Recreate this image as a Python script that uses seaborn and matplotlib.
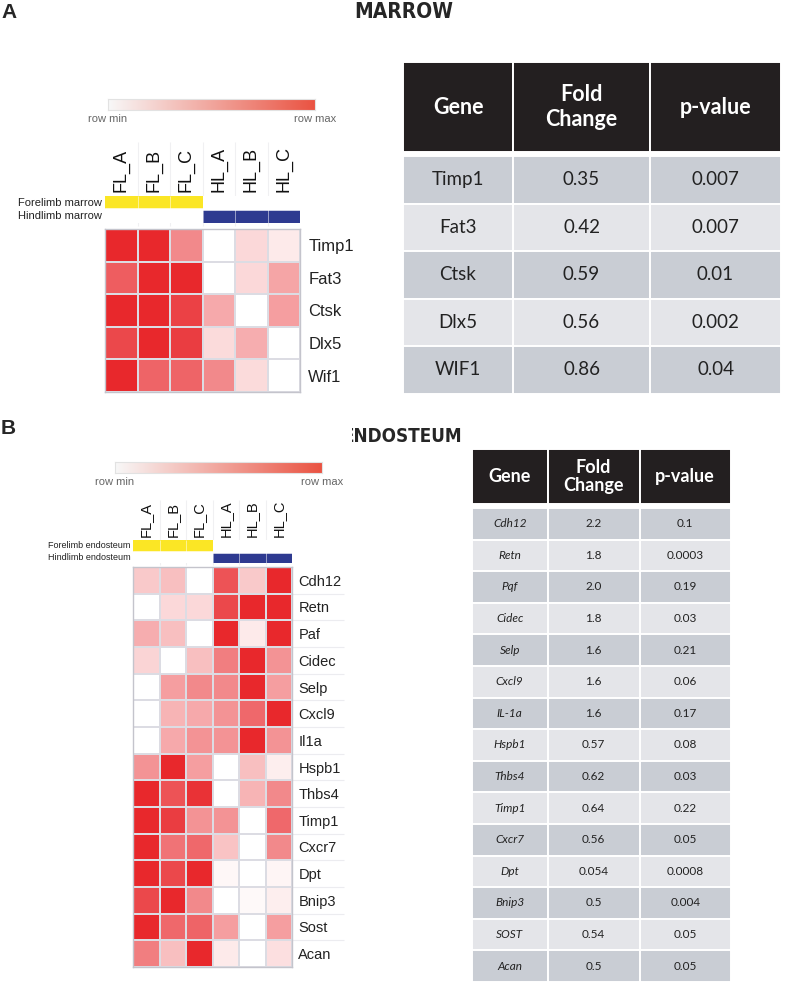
import numpy as np
import pandas as pd
import matplotlib
matplotlib.use("Agg")
import matplotlib.pyplot as plt
import seaborn as sns
from matplotlib import font_manager
from matplotlib.colors import LinearSegmentedColormap, ListedColormap
from matplotlib.patches import Rectangle

# ================= Data =================
samples = ["FL_A", "FL_B", "FL_C", "HL_A", "HL_B", "HL_C"]
groups = ["FL", "FL", "FL", "HL", "HL", "HL"]

# row-scaled expression (0 = row min, 1 = row max)
marrow_genes = ["Timp1", "Fat3", "Ctsk", "Dlx5", "Wif1"]
marrow_vals = [
    [1.00, 1.00, 0.55, 0.00, 0.18, 0.10],
    [0.75, 1.00, 1.00, 0.00, 0.18, 0.42],
    [1.00, 1.00, 0.88, 0.40, 0.00, 0.45],
    [0.85, 1.00, 0.90, 0.17, 0.38, 0.00],
    [1.00, 0.72, 0.72, 0.55, 0.17, 0.00],
]

endo_genes = ["Cdh12", "Retn", "Paf", "Cidec", "Selp", "Cxcl9", "Il1a", "Hspb1",
              "Thbs4", "Timp1", "Cxcr7", "Dpt", "Bnip3", "Sost", "Acan"]
endo_vals = [
    [0.25, 0.30, 0.00, 0.80, 0.25, 1.00],
    [0.00, 0.18, 0.18, 0.85, 1.00, 1.00],
    [0.38, 0.30, 0.00, 1.00, 0.10, 1.00],
    [0.20, 0.00, 0.30, 0.60, 1.00, 0.50],
    [0.00, 0.45, 0.55, 0.55, 1.00, 0.45],
    [0.00, 0.35, 0.40, 0.50, 0.70, 1.00],
    [0.00, 0.40, 0.50, 0.50, 1.00, 0.50],
    [0.50, 1.00, 0.45, 0.00, 0.30, 0.08],
    [1.00, 0.80, 0.95, 0.00, 0.35, 0.55],
    [1.00, 0.90, 0.50, 0.50, 0.00, 0.70],
    [1.00, 0.65, 0.70, 0.28, 0.00, 0.55],
    [1.00, 0.85, 1.00, 0.04, 0.00, 0.05],
    [0.85, 1.00, 0.55, 0.00, 0.03, 0.08],
    [1.00, 0.70, 0.72, 0.45, 0.00, 0.45],
    [0.60, 0.30, 1.00, 0.10, 0.00, 0.15],
]

table_headers = ["Gene", "Fold\nChange", "p-value"]

marrow_tab_gene = ["Timp1", "Fat3", "Ctsk", "Dlx5", "WIF1"]
marrow_tab_fc = ["0.35", "0.42", "0.59", "0.56", "0.86"]
marrow_tab_p = ["0.007", "0.007", "0.01", "0.002", "0.04"]

endo_tab_gene = ["Cdh12", "Retn", "Pqf", "Cidec", "Selp", "Cxcl9", "IL-1a", "Hspb1",
                 "Thbs4", "Timp1", "Cxcr7", "Dpt", "Bnip3", "SOST", "Acan"]
endo_tab_fc = ["2.2", "1.8", "2.0", "1.8", "1.6", "1.6", "1.6", "0.57",
               "0.62", "0.64", "0.56", "0.054", "0.5", "0.54", "0.5"]
endo_tab_p = ["0.1", "0.0003", "0.19", "0.03", "0.21", "0.06", "0.17", "0.08",
              "0.03", "0.22", "0.05", "0.0008", "0.004", "0.05", "0.05"]

# ================= Style =================
sns.set_style("white")
plt.rcParams['font.family'] = ['Liberation Sans', 'DejaVu Sans']

HEAT_CMAP = LinearSegmentedColormap.from_list("rw", ["#ffffff", "#e8282c"])
SCALE_CMAP = LinearSegmentedColormap.from_list("scale", ["#f8f8f8", "#ea5342"])
ANN_CMAP = ListedColormap(["#ffffff", "#fbe625", "#2e3a90"])
HEAD_COL = "#231f20"
ROW_DARK = "#c9cdd4"
ROW_LIGHT = "#e4e5e9"
TABLE_FONT = ['Lato', 'DejaVu Sans']

# condensed bold face for the section titles, if one is installed
_cond = font_manager.findfont(font_manager.FontProperties(family='DejaVu Sans', stretch='condensed',
                                                          weight='bold'), fallback_to_default=True)
if 'ondensed' in _cond:
    TITLE_KW = dict(family='DejaVu Sans', fontstretch='condensed')
    TITLE_FS = 15
else:
    TITLE_KW = dict(family=['Liberation Sans'])
    TITLE_FS = 14.5

W, H = 787, 984
fig = plt.figure(figsize=(W / 100, H / 100), dpi=100)


def px_axes(x0, y0, x1, y1):
    return fig.add_axes([x0 / W, 1 - y1 / H, (x1 - x0) / W, (y1 - y0) / H])


def draw_scale(box, lab_y, fs):
    ax = px_axes(*box)
    ax.imshow(np.linspace(0, 1, 256)[None, :], aspect='auto', cmap=SCALE_CMAP)
    ax.set_xticks([])
    ax.set_yticks([])
    for s in ax.spines.values():
        s.set_color("#e2e2e2")
        s.set_linewidth(0.8)
    fig.text(box[0] / W, 1 - lab_y / H, "row min", fontsize=fs, color="#666666", ha='center', va='center')
    fig.text(box[2] / W, 1 - lab_y / H, "row max", fontsize=fs, color="#666666", ha='center', va='center')


def draw_heatmap(genes, vals, hm_box, ann_box, ann_labels, fs_col, fs_row, fs_ann,
                 row_pad, col_pad, sep_top, ext_lines=False):
    ax = px_axes(*hm_box)
    df = pd.DataFrame(vals, index=genes, columns=samples)
    sns.heatmap(df, ax=ax, cmap=HEAT_CMAP, vmin=0, vmax=1, cbar=False,
                linewidths=1.3, linecolor="#dcdce3")
    ax.yaxis.tick_right()
    ax.set_yticks(np.arange(len(genes)) + 0.5)
    ax.set_yticklabels(genes, rotation=0, fontsize=fs_row, color="#222222")
    ax.set_xticks([])
    ax.tick_params(length=0, pad=row_pad)
    ax.set_xlabel("")
    ax.set_ylabel("")
    for s in ax.spines.values():
        s.set_visible(True)
        s.set_color("#c4c4cc")
        s.set_linewidth(1)
    if ext_lines:
        ax.hlines(np.arange(1, len(genes)), 6, 7.95, color="#ececf0", lw=0.8, clip_on=False)

    ax2 = px_axes(*ann_box)
    ann = pd.DataFrame([[1 if g == "FL" else 0 for g in groups],
                        [2 if g == "HL" else 0 for g in groups]],
                       index=ann_labels, columns=samples)
    sns.heatmap(ann, ax=ax2, cmap=ANN_CMAP, vmin=-0.5, vmax=2.5, cbar=False, linewidths=0)
    # faint column separators running up through the sample labels
    ax2.vlines(np.arange(1, len(samples)), sep_top, 2.2, color="#f0f0f2", lw=0.8, clip_on=False, zorder=0)
    ax2.vlines(np.arange(1, len(samples)), 0, 2, color="white", lw=0.6, alpha=0.6)
    ax2.axhline(1, color="white", lw=1.8)
    ax2.xaxis.tick_top()
    ax2.set_xticks(np.arange(len(samples)) + 0.5)
    ax2.set_xticklabels(samples, rotation=90, fontsize=fs_col, color="#111111")
    ax2.set_yticks([0.5, 1.5])
    ax2.set_yticklabels(ann_labels, rotation=0, fontsize=fs_ann, color="#222222")
    ax2.tick_params(axis='x', length=0, pad=col_pad)
    ax2.tick_params(axis='y', length=0, pad=2)
    ax2.set_xlabel("")
    ax2.set_ylabel("")


def draw_table(box, col_edges, header_h, gap, row_h, cols, fs_head, fs_body, italic_gene, head_ls):
    x0, y0, x1, y1 = box
    ax = px_axes(*box)
    ax.set_xlim(0, x1 - x0)
    ax.set_ylim(y1 - y0, 0)
    ax.axis('off')
    for j in range(3):
        left, right = col_edges[j], col_edges[j + 1]
        ax.add_patch(Rectangle((left, 0), right - left, header_h, facecolor=HEAD_COL,
                               edgecolor="white", lw=1.4))
        ax.text((left + right) / 2, header_h / 2, table_headers[j], color="white",
                fontsize=fs_head, fontweight='bold', family=TABLE_FONT,
                ha='center', va='center', linespacing=head_ls)
    for i in range(len(cols[0])):
        top = header_h + gap + i * row_h
        fc = ROW_DARK if i % 2 == 0 else ROW_LIGHT
        for j in range(3):
            left, right = col_edges[j], col_edges[j + 1]
            ax.add_patch(Rectangle((left, top), right - left, row_h, facecolor=fc,
                                   edgecolor="white", lw=1.4))
            style = 'italic' if (italic_gene and j == 0) else 'normal'
            ax.text((left + right) / 2, top + row_h / 2, cols[j][i], color="#222222",
                    fontsize=fs_body, style=style, family=TABLE_FONT,
                    ha='center', va='center')


# ================= Panel A: marrow =================
fig.text(1 / W, 1 - 12 / H, "A", fontsize=15, fontweight='bold', ha='left', va='center')
fig.text(404 / W, 1 - 12 / H, "MARROW", fontweight='bold', fontsize=TITLE_FS,
         ha='center', va='center', **TITLE_KW)

draw_scale((108, 99, 315, 110), 119, 8)
draw_heatmap(marrow_genes, marrow_vals, (105, 229, 300, 392), (105, 196, 300, 223),
             ["Forelimb marrow", "Hindlimb marrow"], 13, 12, 8, 6, 3, -4.0)
draw_table((403, 62, 781, 393.5), [0, 110, 247, 378], 90, 4, 47.5,
           [marrow_tab_gene, marrow_tab_fc, marrow_tab_p], 15.5, 13.5, False, 1.2)

# ================= Panel B: endosteum =================
fig.text(1 / W, 1 - 428 / H, "B", fontsize=15, fontweight='bold', ha='left', va='center')
fig.text(343 / W, 1 - 437 / H, "ENDOSTEUM", fontweight='bold', fontsize=TITLE_FS - 1.5,
         ha='left', va='center', **TITLE_KW)
# the left panel's white background hides the start of the title
fig.patches.append(Rectangle((300 / W, 1 - 447 / H), 52 / W, 20 / H, transform=fig.transFigure,
                             facecolor="white", edgecolor="none", zorder=5))

draw_scale((115, 462, 322, 473), 482, 8)
draw_heatmap(endo_genes, endo_vals, (133, 567, 292, 967), (133, 540, 292, 563),
             ["Forelimb endosteum", "Hindlimb endosteum"], 10.5, 10.5, 6.5, 4.5, 2, -3.5,
             ext_lines=True)
draw_table((472, 449, 731, 982), [0, 75.5, 167.5, 259], 55, 4, 31.6,
           [endo_tab_gene, endo_tab_fc, endo_tab_p], 13, 8.5, True, 1.05)

fig.savefig("out.png", dpi=100)
